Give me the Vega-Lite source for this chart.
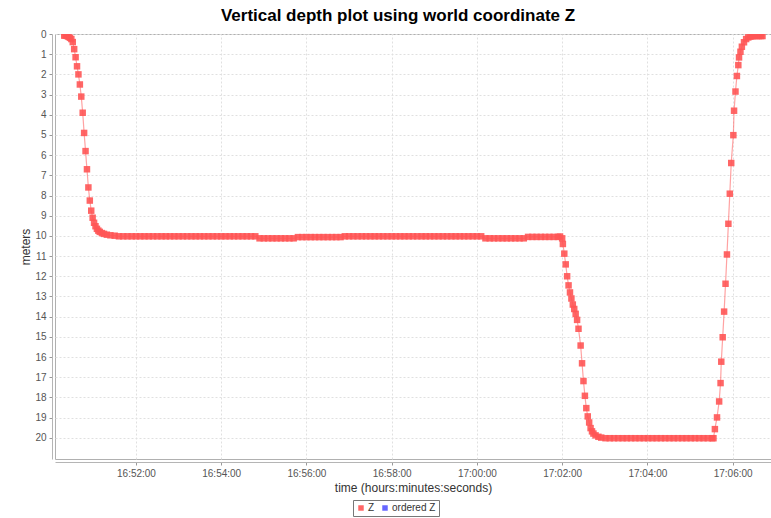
{
  "$schema": "https://vega.github.io/schema/vega-lite/v6.json",
  "width": 716,
  "height": 425,
  "autosize": {"type": "none"},
  "padding": {"left": 55, "top": 34, "right": 0, "bottom": 59},
  "background": "white",
  "config": {
    "font": "Liberation Sans",
    "view": {"stroke": "#b0b0b0", "strokeWidth": 1}
  },
  "title": {
    "text": "Vertical depth plot using world coordinate Z",
    "fontSize": 17,
    "fontWeight": "bold",
    "color": "#000",
    "anchor": "middle",
    "dx": -15,
    "offset": 4
  },
  "data": {
    "values": [
      {"t": "2024-01-01T16:50:19", "z": 0.08}, {"t": "2024-01-01T16:50:21", "z": 0.08}, {"t": "2024-01-01T16:50:23", "z": 0.1}, {"t": "2024-01-01T16:50:25", "z": 0.14},
      {"t": "2024-01-01T16:50:27", "z": 0.19}, {"t": "2024-01-01T16:50:29", "z": 0.25}, {"t": "2024-01-01T16:50:31", "z": 0.4}, {"t": "2024-01-01T16:50:33", "z": 0.75},
      {"t": "2024-01-01T16:50:35", "z": 1.15}, {"t": "2024-01-01T16:50:37", "z": 1.6}, {"t": "2024-01-01T16:50:39", "z": 2.0}, {"t": "2024-01-01T16:50:41", "z": 2.5},
      {"t": "2024-01-01T16:50:43", "z": 3.1}, {"t": "2024-01-01T16:50:45", "z": 3.9}, {"t": "2024-01-01T16:50:47", "z": 4.9}, {"t": "2024-01-01T16:50:49", "z": 5.8},
      {"t": "2024-01-01T16:50:51", "z": 6.7}, {"t": "2024-01-01T16:50:53", "z": 7.6}, {"t": "2024-01-01T16:50:55", "z": 8.25}, {"t": "2024-01-01T16:50:57", "z": 8.75},
      {"t": "2024-01-01T16:50:59", "z": 9.1}, {"t": "2024-01-01T16:51:01", "z": 9.35}, {"t": "2024-01-01T16:51:03", "z": 9.52}, {"t": "2024-01-01T16:51:05", "z": 9.65},
      {"t": "2024-01-01T16:51:07", "z": 9.74}, {"t": "2024-01-01T16:51:09", "z": 9.8}, {"t": "2024-01-01T16:51:12", "z": 9.86}, {"t": "2024-01-01T16:51:15", "z": 9.9},
      {"t": "2024-01-01T16:51:19", "z": 9.94}, {"t": "2024-01-01T16:51:24", "z": 9.97}, {"t": "2024-01-01T16:51:30", "z": 9.99},
      {"t": "2024-01-01T16:51:36", "z": 10.02}, {"t": "2024-01-01T16:51:42", "z": 10.02}, {"t": "2024-01-01T16:51:48", "z": 10.02}, {"t": "2024-01-01T16:51:54", "z": 10.02},
      {"t": "2024-01-01T16:52:00", "z": 10.02}, {"t": "2024-01-01T16:52:06", "z": 10.02}, {"t": "2024-01-01T16:52:12", "z": 10.02}, {"t": "2024-01-01T16:52:18", "z": 10.02}, {"t": "2024-01-01T16:52:24", "z": 10.02},
      {"t": "2024-01-01T16:52:30", "z": 10.02}, {"t": "2024-01-01T16:52:36", "z": 10.02}, {"t": "2024-01-01T16:52:42", "z": 10.02}, {"t": "2024-01-01T16:52:48", "z": 10.02}, {"t": "2024-01-01T16:52:54", "z": 10.02},
      {"t": "2024-01-01T16:53:00", "z": 10.02}, {"t": "2024-01-01T16:53:06", "z": 10.02}, {"t": "2024-01-01T16:53:12", "z": 10.02}, {"t": "2024-01-01T16:53:18", "z": 10.02}, {"t": "2024-01-01T16:53:24", "z": 10.02},
      {"t": "2024-01-01T16:53:30", "z": 10.02}, {"t": "2024-01-01T16:53:36", "z": 10.02}, {"t": "2024-01-01T16:53:42", "z": 10.02}, {"t": "2024-01-01T16:53:48", "z": 10.02}, {"t": "2024-01-01T16:53:54", "z": 10.02},
      {"t": "2024-01-01T16:54:00", "z": 10.02}, {"t": "2024-01-01T16:54:06", "z": 10.02}, {"t": "2024-01-01T16:54:12", "z": 10.02}, {"t": "2024-01-01T16:54:18", "z": 10.02}, {"t": "2024-01-01T16:54:24", "z": 10.02},
      {"t": "2024-01-01T16:54:30", "z": 10.02}, {"t": "2024-01-01T16:54:36", "z": 10.02}, {"t": "2024-01-01T16:54:42", "z": 10.02}, {"t": "2024-01-01T16:54:48", "z": 10.02}, {"t": "2024-01-01T16:54:54", "z": 10.12},
      {"t": "2024-01-01T16:55:00", "z": 10.12}, {"t": "2024-01-01T16:55:06", "z": 10.12}, {"t": "2024-01-01T16:55:12", "z": 10.12}, {"t": "2024-01-01T16:55:18", "z": 10.12}, {"t": "2024-01-01T16:55:24", "z": 10.12},
      {"t": "2024-01-01T16:55:30", "z": 10.12}, {"t": "2024-01-01T16:55:36", "z": 10.12}, {"t": "2024-01-01T16:55:42", "z": 10.12}, {"t": "2024-01-01T16:55:48", "z": 10.06}, {"t": "2024-01-01T16:55:54", "z": 10.06},
      {"t": "2024-01-01T16:56:00", "z": 10.06}, {"t": "2024-01-01T16:56:06", "z": 10.06}, {"t": "2024-01-01T16:56:12", "z": 10.06}, {"t": "2024-01-01T16:56:18", "z": 10.06}, {"t": "2024-01-01T16:56:24", "z": 10.06},
      {"t": "2024-01-01T16:56:30", "z": 10.06}, {"t": "2024-01-01T16:56:36", "z": 10.06}, {"t": "2024-01-01T16:56:42", "z": 10.06}, {"t": "2024-01-01T16:56:48", "z": 10.06}, {"t": "2024-01-01T16:56:54", "z": 10.02},
      {"t": "2024-01-01T16:57:00", "z": 10.02}, {"t": "2024-01-01T16:57:06", "z": 10.02}, {"t": "2024-01-01T16:57:12", "z": 10.02}, {"t": "2024-01-01T16:57:18", "z": 10.02}, {"t": "2024-01-01T16:57:24", "z": 10.02},
      {"t": "2024-01-01T16:57:30", "z": 10.02}, {"t": "2024-01-01T16:57:36", "z": 10.02}, {"t": "2024-01-01T16:57:42", "z": 10.02}, {"t": "2024-01-01T16:57:48", "z": 10.02}, {"t": "2024-01-01T16:57:54", "z": 10.02},
      {"t": "2024-01-01T16:58:00", "z": 10.02}, {"t": "2024-01-01T16:58:06", "z": 10.02}, {"t": "2024-01-01T16:58:12", "z": 10.02}, {"t": "2024-01-01T16:58:18", "z": 10.02}, {"t": "2024-01-01T16:58:24", "z": 10.02},
      {"t": "2024-01-01T16:58:30", "z": 10.02}, {"t": "2024-01-01T16:58:36", "z": 10.02}, {"t": "2024-01-01T16:58:42", "z": 10.02}, {"t": "2024-01-01T16:58:48", "z": 10.02}, {"t": "2024-01-01T16:58:54", "z": 10.02},
      {"t": "2024-01-01T16:59:00", "z": 10.02}, {"t": "2024-01-01T16:59:06", "z": 10.02}, {"t": "2024-01-01T16:59:12", "z": 10.02}, {"t": "2024-01-01T16:59:18", "z": 10.02}, {"t": "2024-01-01T16:59:24", "z": 10.02},
      {"t": "2024-01-01T16:59:30", "z": 10.02}, {"t": "2024-01-01T16:59:36", "z": 10.02}, {"t": "2024-01-01T16:59:42", "z": 10.02}, {"t": "2024-01-01T16:59:48", "z": 10.02}, {"t": "2024-01-01T16:59:54", "z": 10.02},
      {"t": "2024-01-01T17:00:00", "z": 10.02}, {"t": "2024-01-01T17:00:06", "z": 10.02}, {"t": "2024-01-01T17:00:12", "z": 10.12}, {"t": "2024-01-01T17:00:18", "z": 10.12}, {"t": "2024-01-01T17:00:24", "z": 10.12},
      {"t": "2024-01-01T17:00:30", "z": 10.12}, {"t": "2024-01-01T17:00:36", "z": 10.12}, {"t": "2024-01-01T17:00:42", "z": 10.12}, {"t": "2024-01-01T17:00:48", "z": 10.12}, {"t": "2024-01-01T17:00:54", "z": 10.12},
      {"t": "2024-01-01T17:01:00", "z": 10.12}, {"t": "2024-01-01T17:01:06", "z": 10.12}, {"t": "2024-01-01T17:01:12", "z": 10.05}, {"t": "2024-01-01T17:01:18", "z": 10.05}, {"t": "2024-01-01T17:01:24", "z": 10.05},
      {"t": "2024-01-01T17:01:30", "z": 10.05}, {"t": "2024-01-01T17:01:36", "z": 10.05}, {"t": "2024-01-01T17:01:42", "z": 10.05}, {"t": "2024-01-01T17:01:48", "z": 10.05}, {"t": "2024-01-01T17:01:54", "z": 10.05},
      {"t": "2024-01-01T17:01:57", "z": 10.03}, {"t": "2024-01-01T17:02:00", "z": 10.12}, {"t": "2024-01-01T17:02:01", "z": 10.4}, {"t": "2024-01-01T17:02:03", "z": 10.88},
      {"t": "2024-01-01T17:02:05", "z": 11.41}, {"t": "2024-01-01T17:02:07", "z": 12.0}, {"t": "2024-01-01T17:02:09", "z": 12.45}, {"t": "2024-01-01T17:02:11", "z": 12.8},
      {"t": "2024-01-01T17:02:13", "z": 13.1}, {"t": "2024-01-01T17:02:15", "z": 13.4}, {"t": "2024-01-01T17:02:17", "z": 13.62}, {"t": "2024-01-01T17:02:19", "z": 13.86},
      {"t": "2024-01-01T17:02:21", "z": 14.16}, {"t": "2024-01-01T17:02:23", "z": 14.6}, {"t": "2024-01-01T17:02:26", "z": 15.43}, {"t": "2024-01-01T17:02:28", "z": 16.31},
      {"t": "2024-01-01T17:02:30", "z": 17.19}, {"t": "2024-01-01T17:02:32", "z": 17.92}, {"t": "2024-01-01T17:02:34", "z": 18.53}, {"t": "2024-01-01T17:02:36", "z": 18.94},
      {"t": "2024-01-01T17:02:38", "z": 19.24}, {"t": "2024-01-01T17:02:40", "z": 19.52}, {"t": "2024-01-01T17:02:42", "z": 19.68}, {"t": "2024-01-01T17:02:44", "z": 19.79},
      {"t": "2024-01-01T17:02:47", "z": 19.88}, {"t": "2024-01-01T17:02:51", "z": 19.95}, {"t": "2024-01-01T17:02:55", "z": 19.99}, {"t": "2024-01-01T17:03:01", "z": 20.02},
      {"t": "2024-01-01T17:03:07", "z": 20.02}, {"t": "2024-01-01T17:03:13", "z": 20.02}, {"t": "2024-01-01T17:03:19", "z": 20.02}, {"t": "2024-01-01T17:03:25", "z": 20.02}, {"t": "2024-01-01T17:03:31", "z": 20.02},
      {"t": "2024-01-01T17:03:37", "z": 20.02}, {"t": "2024-01-01T17:03:43", "z": 20.02}, {"t": "2024-01-01T17:03:49", "z": 20.02}, {"t": "2024-01-01T17:03:55", "z": 20.02},
      {"t": "2024-01-01T17:04:01", "z": 20.02}, {"t": "2024-01-01T17:04:07", "z": 20.02}, {"t": "2024-01-01T17:04:13", "z": 20.02}, {"t": "2024-01-01T17:04:19", "z": 20.02}, {"t": "2024-01-01T17:04:25", "z": 20.02},
      {"t": "2024-01-01T17:04:31", "z": 20.02}, {"t": "2024-01-01T17:04:37", "z": 20.02}, {"t": "2024-01-01T17:04:43", "z": 20.02}, {"t": "2024-01-01T17:04:49", "z": 20.02}, {"t": "2024-01-01T17:04:55", "z": 20.02},
      {"t": "2024-01-01T17:05:01", "z": 20.02}, {"t": "2024-01-01T17:05:07", "z": 20.02}, {"t": "2024-01-01T17:05:13", "z": 20.02}, {"t": "2024-01-01T17:05:19", "z": 20.02}, {"t": "2024-01-01T17:05:25", "z": 20.02},
      {"t": "2024-01-01T17:05:31", "z": 20.02}, {"t": "2024-01-01T17:05:33", "z": 20.02},
      {"t": "2024-01-01T17:05:35", "z": 19.57}, {"t": "2024-01-01T17:05:38", "z": 18.99}, {"t": "2024-01-01T17:05:41", "z": 18.2}, {"t": "2024-01-01T17:05:43", "z": 17.29},
      {"t": "2024-01-01T17:05:44", "z": 16.23}, {"t": "2024-01-01T17:05:46", "z": 15.02}, {"t": "2024-01-01T17:05:48", "z": 13.75}, {"t": "2024-01-01T17:05:50", "z": 12.37},
      {"t": "2024-01-01T17:05:52", "z": 10.92}, {"t": "2024-01-01T17:05:54", "z": 9.4}, {"t": "2024-01-01T17:05:56", "z": 7.91}, {"t": "2024-01-01T17:05:58", "z": 6.39},
      {"t": "2024-01-01T17:06:01", "z": 5.01}, {"t": "2024-01-01T17:06:02", "z": 3.8}, {"t": "2024-01-01T17:06:04", "z": 2.85}, {"t": "2024-01-01T17:06:06", "z": 2.08},
      {"t": "2024-01-01T17:06:08", "z": 1.54}, {"t": "2024-01-01T17:06:09", "z": 1.16}, {"t": "2024-01-01T17:06:11", "z": 0.88}, {"t": "2024-01-01T17:06:13", "z": 0.63},
      {"t": "2024-01-01T17:06:16", "z": 0.41}, {"t": "2024-01-01T17:06:19", "z": 0.25}, {"t": "2024-01-01T17:06:22", "z": 0.17}, {"t": "2024-01-01T17:06:25", "z": 0.13},
      {"t": "2024-01-01T17:06:28", "z": 0.11}, {"t": "2024-01-01T17:06:31", "z": 0.1}, {"t": "2024-01-01T17:06:34", "z": 0.1}, {"t": "2024-01-01T17:06:37", "z": 0.1},
      {"t": "2024-01-01T17:06:40", "z": 0.1}, {"t": "2024-01-01T17:06:42", "z": 0.1}
    ]
  },
  "encoding": {
    "x": {
      "field": "t",
      "type": "temporal",
      "scale": {
        "domain": [
          {"year": 2024, "month": 1, "date": 1, "hours": 16, "minutes": 50, "seconds": 6},
          {"year": 2024, "month": 1, "date": 1, "hours": 17, "minutes": 6, "seconds": 54}
        ]
      },
      "axis": {
        "title": "time (hours:minutes:seconds)",
        "format": "%H:%M:%S",
        "values": [
          {"year": 2024, "month": 1, "date": 1, "hours": 16, "minutes": 52},
          {"year": 2024, "month": 1, "date": 1, "hours": 16, "minutes": 54},
          {"year": 2024, "month": 1, "date": 1, "hours": 16, "minutes": 56},
          {"year": 2024, "month": 1, "date": 1, "hours": 16, "minutes": 58},
          {"year": 2024, "month": 1, "date": 1, "hours": 17, "minutes": 0},
          {"year": 2024, "month": 1, "date": 1, "hours": 17, "minutes": 2},
          {"year": 2024, "month": 1, "date": 1, "hours": 17, "minutes": 4},
          {"year": 2024, "month": 1, "date": 1, "hours": 17, "minutes": 6}
        ],
        "offset": 3,
        "domainColor": "#b5b5b5",
        "tickColor": "#999",
        "tickSize": 3,
        "labelFontSize": 10,
        "labelColor": "#555",
        "labelPadding": 3,
        "labelFlush": false,
        "labelOverlap": false,
        "titleFontSize": 12,
        "titleFontWeight": "normal",
        "titleColor": "#333",
        "titlePadding": 4,
        "gridColor": "#e0e0e0",
        "gridDash": [2, 2]
      }
    },
    "y": {
      "field": "z",
      "type": "quantitative",
      "scale": {"domain": [0, 21.05], "reverse": true, "nice": false, "zero": false},
      "axis": {
        "title": "meters",
        "values": [0, 1, 2, 3, 4, 5, 6, 7, 8, 9, 10, 11, 12, 13, 14, 15, 16, 17, 18, 19, 20],
        "offset": 3,
        "domainColor": "#b5b5b5",
        "tickColor": "#999",
        "tickSize": 3,
        "labelFontSize": 10,
        "labelColor": "#555",
        "labelPadding": 3,
        "labelFlush": false,
        "labelOverlap": false,
        "titleFontSize": 12,
        "titleFontWeight": "normal",
        "titleColor": "#333",
        "titlePadding": 2,
        "gridColor": "#e0e0e0",
        "gridDash": [2, 2]
      }
    }
  },
  "layer": [
    {
      "mark": {"type": "line", "stroke": "#FF5555", "strokeWidth": 1.2, "opacity": 0.55, "clip": true},
      "encoding": {}
    },
    {
      "mark": {"type": "point", "filled": true, "size": 42, "opacity": 0.9, "shape": "square", "clip": true},
      "encoding": {
        "color": {
          "datum": "Z",
          "type": "nominal",
          "scale": {"domain": ["Z", "ordered Z"], "range": ["#FF5555", "#5555FF"]},
          "legend": {
            "orient": "none",
            "legendX": 298,
            "legendY": 466,
            "direction": "horizontal",
            "title": null,
            "strokeColor": "#777",
            "padding": 3,
            "labelFontSize": 10,
            "labelColor": "#333",
            "symbolSize": 30,
            "symbolType": "square",
            "columnPadding": 5,
            "labelOffset": 2
          }
        }
      }
    }
  ]
}
